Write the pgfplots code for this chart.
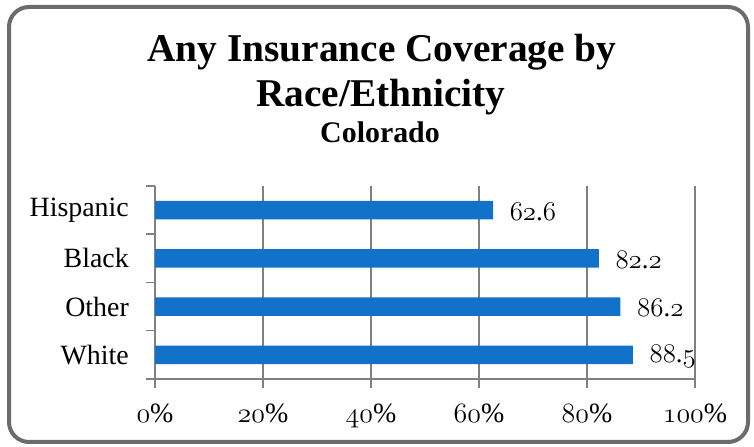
\RequirePackage{fix-cm}
\documentclass[border=0pt]{standalone}
\usepackage{fontspec}
\setmainfont{Liberation Serif}
\usepackage{pgfplots}
\pgfplotsset{compat=1.18}
\definecolor{barblue}{RGB}{18,113,201}
\definecolor{bordergray}{RGB}{107,107,107}
\definecolor{gridgray}{RGB}{128,128,128}
\newcommand\osn[1]{{\usefont{OML}{cmm}{m}{it}#1}}
\def\osnsplit#1.#2\relax{\osn{#1}.\osn{#2}}
\begin{document}
\begin{tikzpicture}[x=1bp,y=1bp]
\path[use as bounding box] (0,0) rectangle (754,447);
\draw[line width=4bp, color=bordergray, rounded corners=20bp] (9,5) rectangle (748,440);
\node[anchor=base, inner sep=0pt, font=\fontsize{39.5}{44}\selectfont\bfseries] at (382,385) {Any Insurance Coverage by};
\node[anchor=base, inner sep=0pt, font=\fontsize{39.5}{44}\selectfont\bfseries] at (381,340) {Race/Ethnicity};
\node[anchor=base, inner sep=0pt, font=\fontsize{30}{34}\selectfont\bfseries] at (380,304) {Colorado};
\begin{axis}[
  at={(155bp,68bp)}, anchor=south west, scale only axis,
  width=540bp, height=193bp,
  xbar, bar width=18.5bp,
  xmin=0, xmax=100, ymin=-0.5, ymax=3.5,
  axis x line*=bottom, axis y line*=left,
  axis line style={draw=gridgray, line width=1.5bp},
  xtick={0,20,40,60,80,100},
  xticklabels={\osn{0}\%,\osn{20}\%,\osn{40}\%,\osn{60}\%,\osn{80}\%,\osn{100}\%},
  xmajorgrids, major grid style={draw=gridgray, line width=1.5bp},
  tick align=outside, major tick length=9bp,
  tick style={draw=gridgray, line width=1.5bp},
  ytick={-0.5,0.5,1.5,2.5,3.5}, yticklabels={},
  extra y ticks={0,1,2,3},
  extra y tick labels={White,Other,Black,Hispanic},
  extra y tick style={major tick length=0pt, tick style={draw=none}},
  xticklabel style={anchor=base, inner sep=0pt, yshift=-35bp},
  yticklabel style={anchor=east, inner sep=0pt, xshift=-26bp},
  every tick label/.append style={font=\fontsize{28}{32}\selectfont},
  point meta=explicit symbolic,
  nodes near coords={\expandafter\osnsplit\pgfplotspointmeta\relax},
  every node near coord/.append style={anchor=west, inner sep=0pt, xshift=16.5bp, yshift=-1.5bp, font=\fontsize{27}{31}\selectfont, text=black},
  clip=false,
]
\addplot[fill=barblue, draw=none] coordinates {
  (88.5,0) [88.5]
  (86.2,1) [86.2]
  (82.2,2) [82.2]
  (62.6,3) [62.6]
};
\end{axis}
\end{tikzpicture}
\end{document}
